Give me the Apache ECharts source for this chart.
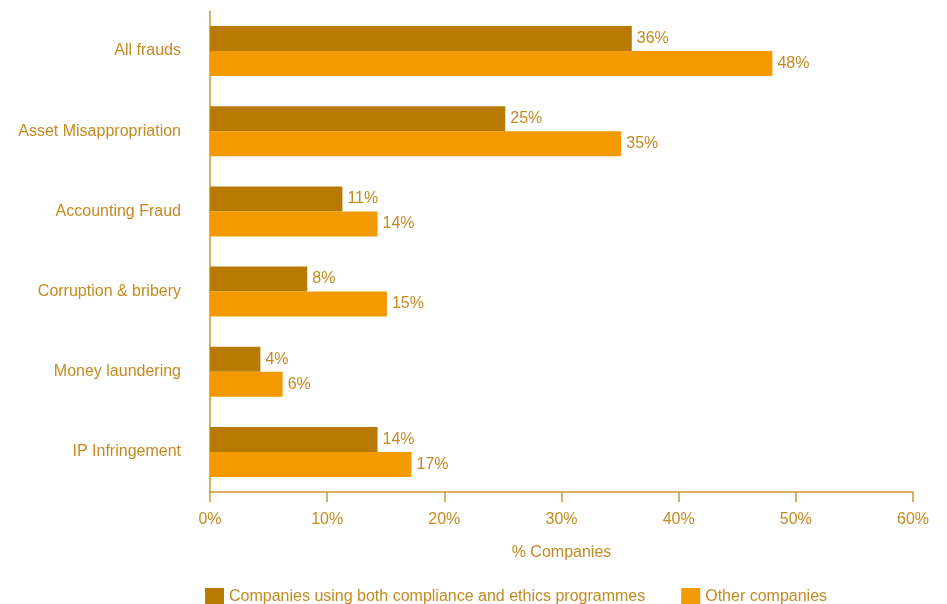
<!DOCTYPE html>
<html>
<head>
<meta charset="utf-8">
<style>
  html, body { margin: 0; padding: 0; background: #fff; }
  #main { width: 947px; height: 604px; }
</style>
<script src="https://cdn.jsdelivr.net/npm/echarts@6/dist/echarts.min.js"></script>
</head>
<body>
<div id="main"></div>
<script>
// categories from top to bottom
var categories = ['All frauds', 'Asset Misappropriation', 'Accounting Fraud',
                  'Corruption & bribery', 'Money laundering', 'IP Infringement'];
// bar lengths (labels show them rounded)
var withProgrammes = [36, 25.2, 11.3, 8.3, 4.3, 14.3];
var otherCompanies = [48, 35.1, 14.3, 15.1, 6.2, 17.2];
var seriesNames = ['Companies using both compliance and ethics programmes', 'Other companies'];
var xTicks = [0, 10, 20, 30, 40, 50, 60];

var textColor = '#c48a1f';
var axisColor = '#c9963a';
var darkBar = '#b87a00';
var lightBar = '#f29a00';
var fontSize = 16;

var myChart = echarts.init(document.getElementById('main'));

var barLabel = {
    show: true,
    position: 'right',
    distance: 5,
    color: textColor,
    fontSize: fontSize,
    fontFamily: 'Liberation Sans',
    formatter: function (p) {
        return Math.round(p.value) + '%';
    }
};

var option = {
    animation: false,
    textStyle: { fontFamily: 'Liberation Sans' },
    grid: {
        left: 210,
        right: 34,
        top: 11,
        height: 481
    },
    legend: {
        left: 200,
        top: 583,
        itemWidth: 19,
        itemHeight: 18,
        itemGap: 36,
        icon: 'rect',
        textStyle: { color: textColor, fontSize: fontSize, fontFamily: 'Liberation Sans' },
        data: seriesNames
    },
    xAxis: {
        type: 'value',
        min: xTicks[0],
        max: xTicks[xTicks.length - 1],
        interval: 10,
        name: '% Companies',
        nameLocation: 'middle',
        nameGap: 53,
        nameTextStyle: { color: textColor, fontSize: fontSize },
        axisLine: { show: true, lineStyle: { color: axisColor, width: 1.5 } },
        axisTick: { show: true, length: 10, lineStyle: { color: axisColor, width: 1.5 } },
        axisLabel: {
            color: textColor,
            fontSize: fontSize,
            margin: 20,
            formatter: '{value}%'
        },
        splitLine: { show: false }
    },
    yAxis: {
        type: 'category',
        inverse: true,
        data: categories,
        axisLine: { show: true, lineStyle: { color: axisColor, width: 1.5 } },
        axisTick: { show: false },
        axisLabel: { color: textColor, fontSize: fontSize, margin: 29 }
    },
    series: [
        {
            name: seriesNames[0],
            type: 'bar',
            data: withProgrammes,
            barWidth: 25,
            barGap: '0%',
            itemStyle: { color: darkBar },
            label: barLabel
        },
        {
            name: seriesNames[1],
            type: 'bar',
            data: otherCompanies,
            barWidth: 25,
            barGap: '0%',
            itemStyle: { color: lightBar },
            label: barLabel
        }
    ]
};
myChart.setOption(option);
</script>
</body>
</html>
